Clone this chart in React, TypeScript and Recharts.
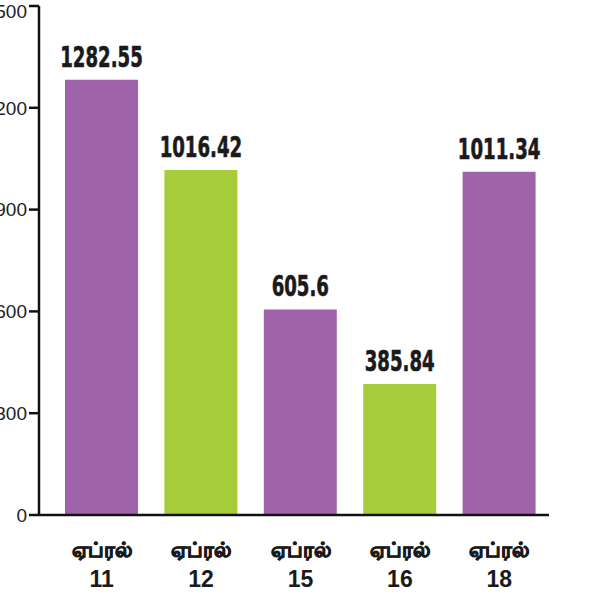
import { BarChart, Bar, XAxis, YAxis, Cell, LabelList } from 'recharts';

const days = ['11', '12', '15', '16', '18'];
const values = [1282.55, 1016.42, 605.6, 385.84, 1011.34];
const yTicks = [0, 300, 600, 900, 1200, 1500];

const PURPLE = '#9e63a9';
const GREEN = '#a6cc3a';
const barColors = [PURPLE, GREEN, PURPLE, GREEN, PURPLE];

const data = days.map((d, i) => ({ day: d, value: values[i] }));

const DayTick = ({ x, y, payload }: any) => (
  <g transform={`translate(${x},${y})`}>
    <text textAnchor="middle" y={34} fontSize={21} fontWeight={700}
      stroke="#1a1a1a" strokeWidth={0.9}
      fontFamily="'Noto Sans', 'DejaVu Sans', sans-serif" fill="#1a1a1a">ஏப்ரல்</text>
    <text textAnchor="middle" y={64} fontSize={23} fontWeight={700}
      fontFamily="'Liberation Sans', Arial, sans-serif" fill="#1a1a1a">{payload.value}</text>
  </g>
);

// condensed bold value label drawn above each bar
const ValueLabel = ({ x, y, width, value }: any) => {
  const cx = x + width / 2;
  const by = y - 13;
  return (
    <text transform={`translate(${cx},${by}) scale(0.72,1)`} textAnchor="middle"
      fontSize={28} fontWeight={700} fill="#1a1a1a" stroke="#1a1a1a" strokeWidth={0.6}
      fontFamily="'DejaVu Sans Condensed', 'DejaVu Sans', sans-serif">{value}</text>
  );
};

export default function App() {
  return (
    <div style={{ position: 'absolute', left: 0, top: 0, width: 600, height: 600, background: '#fff' }}>
      <BarChart width={600} height={600} data={data}
        margin={{ top: 6, right: 51, left: 0, bottom: 0 }} barCategoryGap={13}>
        <YAxis domain={[0, 1500]} ticks={yTicks} width={39}
          axisLine={{ stroke: '#111', strokeWidth: 2.5 }}
          tickLine={{ stroke: '#111', strokeWidth: 2.5 }} tickSize={10} tickMargin={2}
          tick={{ fill: '#222', fontSize: 19, fontFamily: "'Liberation Sans', Arial, sans-serif" }} />
        <XAxis dataKey="day" height={85} padding={{ left: 13, right: 0 }}
          axisLine={{ stroke: '#111', strokeWidth: 2.5 }} tickLine={false}
          tick={<DayTick />} interval={0} />
        <Bar dataKey="value" isAnimationActive={false}>
          {data.map((_, i) => <Cell key={i} fill={barColors[i]} />)}
          <LabelList dataKey="value" content={<ValueLabel />} />
        </Bar>
      </BarChart>
    </div>
  );
}
